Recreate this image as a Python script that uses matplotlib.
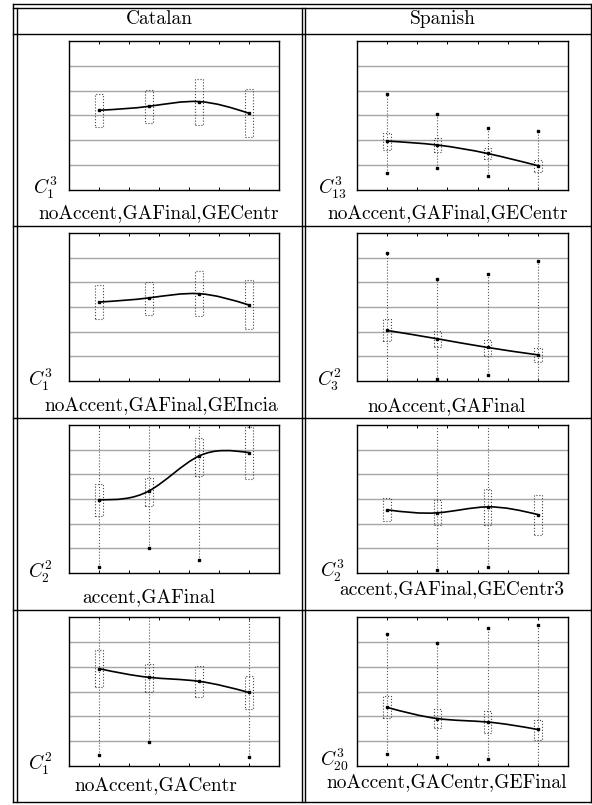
import numpy as np
import matplotlib
matplotlib.use("Agg")
import matplotlib.pyplot as plt
from matplotlib.path import Path
from matplotlib.patches import PathPatch, Rectangle

plt.rcParams['mathtext.fontset'] = 'cm'

# --------------------------
# Data (one row per panel, row-major: Catalan, Spanish, ...)
# --------------------------
columns = ['Catalan', 'Spanish']
x_pos = [1.0, 2.67, 4.33, 6.0]

c_labels = [r'$C_1^3$', r'$C_{13}^3$', r'$C_1^3$', r'$C_3^2$',
            r'$C_2^2$', r'$C_2^3$', r'$C_1^2$', r'$C_{20}^3$']
sub_labels = ['noAccent,GAFinal,GECentr', 'noAccent,GAFinal,GECentr',
              'noAccent,GAFinal,GEIncia', 'noAccent,GAFinal',
              'accent,GAFinal', 'accent,GAFinal,GECentr3',
              'noAccent,GACentr', 'noAccent,GACentr,GEFinal']

means = [[3.21, 3.37, 3.56, 3.09],
         [1.97, 1.81, 1.47, 0.98],
         [3.20, 3.37, 3.54, 3.08],
         [2.05, 1.71, 1.36, 1.06],
         [2.97, 3.33, 4.74, 4.88],
         [2.56, 2.44, 2.68, 2.37],
         [3.92, 3.57, 3.41, 2.96],
         [2.36, 1.91, 1.77, 1.47]]
box_lo = [[2.52, 2.71, 2.62, 2.12],
          [1.61, 1.53, 1.23, 0.71],
          [2.50, 2.69, 2.63, 2.09],
          [1.61, 1.37, 1.03, 0.76],
          [2.30, 2.70, 3.95, 3.81],
          [2.09, 1.95, 1.93, 1.54],
          [3.17, 2.98, 2.79, 2.29],
          [1.93, 1.55, 1.32, 1.06]]
box_hi = [[3.88, 4.04, 4.46, 4.07],
          [2.30, 2.08, 1.71, 1.21],
          [3.88, 4.02, 4.45, 4.08],
          [2.50, 2.02, 1.68, 1.34],
          [3.60, 3.84, 5.46, 5.92],
          [3.05, 2.96, 3.41, 3.18],
          [4.69, 4.11, 4.03, 3.61],
          [2.80, 2.28, 2.20, 1.85]]
nan = np.nan
whisk_lo = [[nan, nan, nan, nan],
            [0.70, 0.87, 0.58, -0.4],
            [nan, nan, nan, nan],
            [-0.3, 0.08, 0.24, -0.3],
            [0.23, 1.01, 0.54, nan],
            [nan, 0.12, 0.24, nan],
            [0.46, 0.96, nan, 0.35],
            [0.50, 0.36, 0.30, -0.4]]
whisk_hi = [[nan, nan, nan, nan],
            [3.86, 3.08, 2.48, 2.38],
            [nan, nan, nan, nan],
            [5.18, 4.15, 4.33, 4.87],
            [6.8, 6.8, 6.8, nan],
            [nan, 6.8, 6.8, nan],
            [6.8, 6.8, nan, 6.8],
            [5.32, 4.96, 5.57, 5.67]]

# --------------------------
# Layout (pixels, measured from top-left)
# --------------------------
W, H = 592, 805
col_left = [69, 357]
col_right = [279, 568]
row_top = [41, 233, 425, 617]
row_bot = [190, 381, 573, 766]
sub_x = [158.5, 448, 161.7, 446.7, 149, 451.7, 155.6, 446.7]
sub_y = [213, 213, 405, 406, 597, 589, 785, 782]
c_x = [33, 318, 28, 317, 28, 320, 28, 320]
c_y = [188, 188, 380, 380, 572, 571, 764, 760]


def natural_slopes(x, y):
    # first derivatives of a natural cubic spline at the knots
    x = np.asarray(x, float)
    y = np.asarray(y, float)
    n = len(x)
    h = np.diff(x)
    d = np.diff(y) / h
    A = np.zeros((n, n))
    rhs = np.zeros(n)
    A[0, 0] = A[-1, -1] = 1.0
    for k in range(1, n - 1):
        A[k, k - 1] = h[k - 1]
        A[k, k] = 2 * (h[k - 1] + h[k])
        A[k, k + 1] = h[k]
        rhs[k] = 6 * (d[k] - d[k - 1])
    M = np.linalg.solve(A, rhs)
    s = np.zeros(n)
    for i in range(n - 1):
        s[i] = d[i] - h[i] * (2 * M[i] + M[i + 1]) / 6
    s[-1] = d[-1] + h[-1] * (M[-2] + 2 * M[-1]) / 6
    return s


def smooth_path(x, y):
    s = natural_slopes(x, y)
    verts = [(x[0], y[0])]
    codes = [Path.MOVETO]
    for i in range(len(x) - 1):
        h = x[i + 1] - x[i]
        verts += [(x[i] + h / 3, y[i] + s[i] * h / 3),
                  (x[i + 1] - h / 3, y[i + 1] - s[i + 1] * h / 3),
                  (x[i + 1], y[i + 1])]
        codes += [Path.CURVE4] * 3
    return Path(verts, codes)


fig = plt.figure(figsize=(W / 100, H / 100), dpi=100)

# table frame drawn in pixel space
bg = fig.add_axes([0, 0, 1, 1])
bg.set_xlim(0, W)
bg.set_ylim(H, 0)
bg.axis('off')
lc = dict(color='black', lw=1.0)
bg.plot([13, 592], [4.5, 4.5], **lc)
bg.plot([13, 592], [8.5, 8.5], **lc)
for xv in [13, 16.5, 301.5, 305, 590.5]:
    bg.plot([xv, xv], [4.5 if xv in (13, 590.5) else 8.5, 802], **lc)
for yv in [34, 226, 418, 610, 802]:
    bg.plot([13, 592], [yv, yv], **lc)
for j, name in enumerate(columns):
    bg.text([159.5, 442.5][j], 19, name, fontfamily='cmr10', fontsize=14,
            ha='center', va='center')

for p in range(8):
    r, c = divmod(p, 2)
    l, rt = col_left[c], col_right[c]
    t, b = row_top[r], row_bot[r]
    ax = fig.add_axes([l / W, 1 - b / H, (rt - l) / W, (b - t) / H])
    ax.set_xlim(0, 7)
    ax.set_ylim(0, 6)
    ax.set_xticks(range(1, 7))
    ax.set_yticks(range(1, 6))
    ax.tick_params(direction='in', length=2.5, width=0.7, top=True, right=False,
                   labelbottom=False, labelleft=False)
    ax.tick_params(axis='y', length=0)
    ax.grid(axis='y', color='#a6a6a6', lw=1.0)
    ax.set_axisbelow(True)
    for sp in ax.spines.values():
        sp.set_linewidth(1.0)

    for i, xv in enumerate(x_pos):
        lo, hi = whisk_lo[p][i], whisk_hi[p][i]
        if not np.isnan(lo):
            ax.plot([xv, xv], [lo, hi], ls=':', color='#555555', lw=0.8)
            ax.plot([xv, xv], [lo, hi], ls='none', marker='s', ms=1.8,
                    color='black')
        ax.add_patch(Rectangle((xv - 0.13, box_lo[p][i]), 0.26,
                               box_hi[p][i] - box_lo[p][i], fill=False,
                               ls=':', lw=0.8, edgecolor='#444444'))

    ax.add_patch(PathPatch(smooth_path(x_pos, means[p]), fill=False,
                           lw=1.2, edgecolor='black'))
    ax.plot(x_pos, means[p], ls='none', marker='s', ms=1.8, color='black')

    bg.text(c_x[p], c_y[p], c_labels[p], fontsize=14, ha='left', va='center')
    bg.text(sub_x[p], sub_y[p], sub_labels[p], fontfamily='cmr10',
            fontsize=14, ha='center', va='center')

fig.savefig('out.png', dpi=100)
